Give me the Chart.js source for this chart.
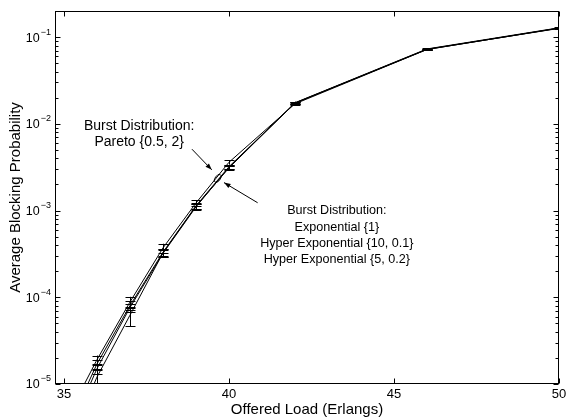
<!DOCTYPE html>
<html>
<head>
<meta charset="utf-8">
<script src="https://cdn.jsdelivr.net/npm/chart.js@4/dist/chart.umd.min.js"></script>
<style>
  html, body { margin: 0; padding: 0; background: #fff; }
  #wrap { width: 567px; height: 419px; }
</style>
</head>
<body>
<div id="wrap"><canvas id="blocking"></canvas></div>
<script>
// Offered load (Erlangs) for every simulated point
const loads = [35, 36, 37, 38, 39, 40, 42, 46, 50];

// Average blocking probability per burst distribution
const expo = [2.5e-6, 1.7e-5, 8.0e-5, 3.3e-4, 1.13e-3, 3.2e-3, 1.74e-2, 7.2e-2, 0.127];
const hyper10 = [2.0e-6, 1.5e-5, 7.6e-5, 3.2e-4, 1.1e-3, 3.15e-3, 1.73e-2, 7.25e-2, 0.126];
const hyper5 = [1.5e-6, 1.2e-5, 6.2e-5, 3.25e-4, 1.12e-3, 3.1e-3, 1.75e-2, 7.3e-2, 0.128];
const pareto = [3.5e-6, 1.9e-5, 8.8e-5, 3.7e-4, 1.22e-3, 3.6e-3, 1.7e-2, 7.2e-2, 0.127];

// Relative half-width of the confidence interval at each load
const expoErr = [0.2, 0.12, 0.12, 0.1, 0.07, 0.05, 0.03, 0.015, 0.01];
const hyper10Err = [0.2, 0.14, 0.1, 0.1, 0.07, 0.05, 0.03, 0.015, 0.01];
const hyper5Err = [0.25, 0.2, 0.25, 0.1, 0.07, 0.05, 0.03, 0.015, 0.01];
const paretoErr = [0.2, 0.12, 0.15, 0.12, 0.08, 0.06, 0.03, 0.015, 0.01];

// Axis ticks
const xTicks = [35, 40, 45, 50];
const yExponents = [-5, -4, -3, -2, -1];

const FONT = '"Liberation Sans", Arial, sans-serif';

function points(values) {
    return loads.map((x, i) => ({ x: x, y: values[i] }));
}

function makeSet(label, values, errs) {
    return {
        label: label,
        data: points(values),
        errs: errs,
        borderColor: '#000',
        borderWidth: 1,
        pointRadius: 0,
        tension: 0,
        fill: false
    };
}

// Error bars, frame, inward ticks, labels and annotations
const axesPlugin = {
    id: 'matlabAxes',
    afterDatasetsDraw(chart) {
        const ctx = chart.ctx;
        const area = chart.chartArea;
        const xs = chart.scales.x;
        const ys = chart.scales.y;

        // error bars
        ctx.save();
        ctx.beginPath();
        ctx.rect(area.left, area.top, area.right - area.left, area.bottom - area.top);
        ctx.clip();
        ctx.strokeStyle = '#000';
        ctx.lineWidth = 1;
        chart.data.datasets.forEach(ds => {
            ds.data.forEach((p, i) => {
                const px = Math.round(xs.getPixelForValue(p.x)) + 0.5;
                const lo = ys.getPixelForValue(p.y * (1 - ds.errs[i]));
                const hi = ys.getPixelForValue(p.y * (1 + ds.errs[i]));
                ctx.beginPath();
                ctx.moveTo(px, lo); ctx.lineTo(px, hi);
                ctx.moveTo(px - 5, Math.round(lo) + 0.5); ctx.lineTo(px + 5, Math.round(lo) + 0.5);
                ctx.moveTo(px - 5, Math.round(hi) + 0.5); ctx.lineTo(px + 5, Math.round(hi) + 0.5);
                ctx.stroke();
            });
        });
        ctx.restore();

        ctx.save();
        ctx.strokeStyle = '#000';
        ctx.fillStyle = '#000';
        ctx.lineWidth = 1;

        // frame
        const L = Math.round(area.left) + 0.5, R = Math.round(area.right) - 0.5;
        const T = Math.round(area.top) + 0.5, B = Math.round(area.bottom) - 0.5;
        ctx.strokeRect(L, T, R - L, B - T);

        // x ticks (bottom and top, pointing inward)
        ctx.beginPath();
        xTicks.forEach(v => {
            const px = Math.round(xs.getPixelForValue(v)) + 0.5;
            ctx.moveTo(px, B); ctx.lineTo(px, B - 5);
            ctx.moveTo(px, T); ctx.lineTo(px, T + 5);
        });
        // y ticks, major and minor, on both sides
        yExponents.forEach(e => {
            for (let m = 1; m <= 9; m++) {
                const v = m * Math.pow(10, e);
                if (v > ys.max) break;
                const py = Math.round(ys.getPixelForValue(v)) + 0.5;
                const len = m === 1 ? 5 : 3;
                ctx.moveTo(L, py); ctx.lineTo(L + len, py);
                ctx.moveTo(R, py); ctx.lineTo(R - len, py);
            }
        });
        ctx.stroke();

        // x tick labels
        ctx.font = '13px ' + FONT;
        ctx.textAlign = 'center';
        ctx.textBaseline = 'middle';
        xTicks.forEach(v => {
            ctx.fillText(String(v), xs.getPixelForValue(v), area.bottom + 10);
        });

        // y tick labels, 10 with a superscript exponent
        yExponents.forEach(e => {
            const py = ys.getPixelForValue(Math.pow(10, e));
            const sup = '\u2212' + Math.abs(e);
            ctx.font = '9px ' + FONT;
            const supW = ctx.measureText(sup).width;
            ctx.textAlign = 'left';
            ctx.textBaseline = 'middle';
            const right = area.left - 4;
            ctx.fillText(sup, right - supW, py - 5);
            ctx.font = '12.5px ' + FONT;
            ctx.textAlign = 'right';
            ctx.fillText('10', right - supW - 1, py + 1);
        });

        // axis titles
        ctx.font = '15px ' + FONT;
        ctx.textAlign = 'center';
        ctx.textBaseline = 'middle';
        ctx.fillText('Offered Load (Erlangs)', (area.left + area.right) / 2, area.bottom + 26);
        ctx.save();
        ctx.translate(16, (area.top + area.bottom) / 2);
        ctx.rotate(-Math.PI / 2);
        ctx.fillText('Average Blocking Probability', 0, 0);
        ctx.restore();

        // annotations
        const X = v => xs.getPixelForValue(v);
        const Y = v => ys.getPixelForValue(v);

        ctx.font = '14px ' + FONT;
        ctx.fillText('Burst Distribution:', X(37.28), Y(9.4e-3));
        ctx.fillText('Pareto {0.5, 2}', X(37.28), Y(6.16e-3));

        ctx.font = '12.6px ' + FONT;
        const notes = ['Burst Distribution:', 'Exponential {1}', 'Hyper Exponential {10, 0.1}', 'Hyper Exponential {5, 0.2}'];
        const noteY = [9.9e-4, 6.45e-4, 4.2e-4, 2.7e-4];
        notes.forEach((t, i) => ctx.fillText(t, X(43.27), Y(noteY[i])));

        arrow(ctx, X(38.88), Y(5.1e-3), X(39.48), Y(2.95e-3));
        arrow(ctx, X(40.87), Y(1.23e-3), X(39.85), Y(2.1e-3));

        // ring around the three overlapping curves
        ctx.beginPath();
        ctx.ellipse(X(39.66), Y(2.35e-3), 2.5, 4.5, 0.6, 0, Math.PI * 2);
        ctx.stroke();

        ctx.restore();
    }
};

function arrow(ctx, x1, y1, x2, y2) {
    const a = Math.atan2(y2 - y1, x2 - x1);
    ctx.beginPath();
    ctx.moveTo(x1, y1);
    ctx.lineTo(x2, y2);
    ctx.stroke();
    ctx.beginPath();
    ctx.moveTo(x2, y2);
    ctx.lineTo(x2 - 7 * Math.cos(a - 0.35), y2 - 7 * Math.sin(a - 0.35));
    ctx.lineTo(x2 - 7 * Math.cos(a + 0.35), y2 - 7 * Math.sin(a + 0.35));
    ctx.closePath();
    ctx.fill();
}

new Chart(document.getElementById('blocking'), {
    type: 'line',
    data: {
        datasets: [
            makeSet('Exponential {1}', expo, expoErr),
            makeSet('Hyper Exponential {10, 0.1}', hyper10, hyper10Err),
            makeSet('Hyper Exponential {5, 0.2}', hyper5, hyper5Err),
            makeSet('Pareto {0.5, 2}', pareto, paretoErr)
        ]
    },
    options: {
        responsive: true,
        maintainAspectRatio: false,
        animation: false,
        layout: { padding: { left: 55, right: 8, top: 11, bottom: 35 } },
        plugins: {
            legend: { display: false },
            tooltip: { enabled: false }
        },
        scales: {
            x: { type: 'linear', display: false, min: 34.73, max: 50 },
            y: { type: 'logarithmic', display: false, min: 1e-5, max: 0.2 }
        }
    },
    plugins: [axesPlugin]
});
</script>
</body>
</html>
